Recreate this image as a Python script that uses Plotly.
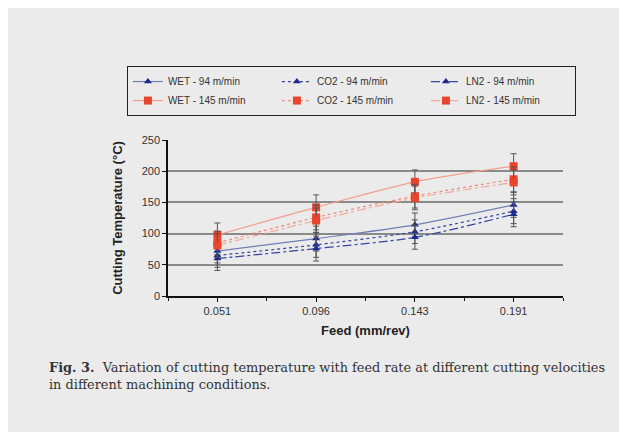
import plotly.graph_objects as go

feeds = ["0.051", "0.096", "0.143", "0.191"]
x_idx = [0, 1, 2, 3]

wet_94 = [72, 92, 114, 146]
co2_94 = [65, 82, 103, 136]
ln2_94 = [60, 76, 94, 131]
wet_145 = [98, 142, 183, 208]
co2_145 = [85, 126, 160, 187]
ln2_145 = [81, 121, 157, 182]
err = [19, 20, 19, 20]

BG = "#ebebeb"
BLUE_M = "#1c2a8c"
RED_M = "#e8452c"

series = [
    ("WET - 94 m/min", wet_94, "#6f7fb5", "solid", "triangle-up", BLUE_M),
    ("CO2 - 94 m/min", co2_94, "#3545a0", "dot", "triangle-up", BLUE_M),
    ("LN2 - 94 m/min", ln2_94, "#3545a0", "dashdot", "triangle-up", BLUE_M),
    ("WET - 145 m/min", wet_145, "#f2a08e", "solid", "square", RED_M),
    ("CO2 - 145 m/min", co2_145, "#f08a76", "dot", "square", RED_M),
    ("LN2 - 145 m/min", ln2_145, "#f4a896", "dashdot", "square", RED_M),
]

fig = go.Figure()
for name, ys, lc, dash, sym, mc in series:
    fig.add_trace(go.Scatter(
        x=x_idx, y=ys, name=name, mode="lines+markers",
        line=dict(color=lc, width=1.2, dash=dash, shape="spline", smoothing=0.8),
        marker=dict(symbol=sym, size=8 if sym == "square" else 7, color=mc),
        error_y=dict(type="data", array=err, color="#555555", thickness=1, width=3),
    ))

fig.update_layout(
    width=619, height=424,
    paper_bgcolor=BG, plot_bgcolor=BG,
    margin=dict(l=160, r=64, t=132, b=136),
    font=dict(family="Liberation Sans, Arial", color="#333333"),
    legend=dict(
        orientation="h", x=-0.104, y=1.474, xanchor="left", yanchor="top",
        entrywidth=104, bordercolor="#222222", borderwidth=1, bgcolor=BG,
        font=dict(size=10, family="Liberation Sans Narrow, Liberation Sans, Arial"),
        itemwidth=30, tracegroupgap=0,
    ),
    showlegend=True,
)
fig.update_xaxes(
    range=[-0.5, 3.5], tickmode="array", tickvals=x_idx, ticktext=feeds,
    showgrid=False, zeroline=False, showline=True, linecolor="#111111", linewidth=1.5,
    ticks="outside", ticklen=4, tickcolor="#111111", automargin=False,
    minor=dict(tickmode="linear", tick0=0.5, dtick=1, ticks="outside", ticklen=3, tickcolor="#111111"),
    tickfont=dict(size=11, color="#333333"),
    title=dict(text="<b>Feed (mm/rev)</b>", font=dict(size=13, color="#222222"), standoff=10),
)
fig.update_yaxes(
    range=[0, 250], dtick=50, showgrid=True, gridcolor="#8a8a8a", gridwidth=2,
    zeroline=False, showline=True, linecolor="#111111", linewidth=1.5,
    ticks="outside", ticklen=4, tickcolor="#111111", automargin=False,
    tickfont=dict(size=11, color="#333333"),
    title=dict(text="<b>Cutting Temperature (°C)</b>", font=dict(size=13, color="#222222"), standoff=16),
)

fig.add_annotation(
    xref="paper", yref="paper", x=-0.307, y=-0.40, xanchor="left", yanchor="top",
    align="left", showarrow=False,
    text="<b>Fig. 3.</b>  Variation of cutting temperature with feed rate at different cutting velocities<br>in different machining conditions.",
    font=dict(family="DejaVu Serif", size=12.9, color="#333333"),
)

fig.write_html("out.html")
